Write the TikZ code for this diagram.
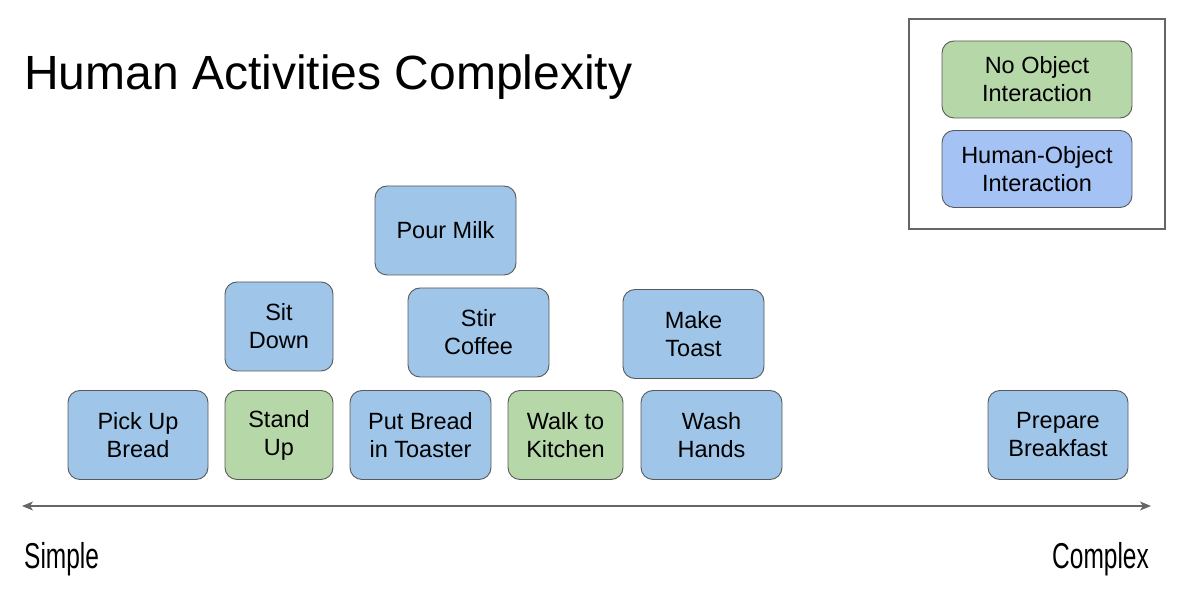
\documentclass[tikz,border=0pt]{standalone}
\usepackage{fontspec}
\setmainfont{Liberation Sans}
\newfontfamily\condfont[FakeStretch=0.68]{Liberation Sans}
\usetikzlibrary{arrows.meta}
\definecolor{boxblue}{HTML}{9FC5E8}
\definecolor{legblue}{HTML}{A4C2F4}
\definecolor{boxgreen}{HTML}{B6D7A8}
\definecolor{boxline}{HTML}{595959}
\definecolor{axisgray}{HTML}{666666}
\tikzset{
  actbox/.style={draw=boxline, line width=0.9pt, rounded corners=12pt,
    minimum height=89pt, align=center, inner sep=2pt,
    font=\fontsize{23.5}{28}\selectfont, text=black},
  hoi/.style={actbox, fill=boxblue},
  noi/.style={actbox, fill=boxgreen},
  legbox/.style={actbox, minimum width=190pt, minimum height=77pt},
}
\begin{document}
\begin{tikzpicture}[x=1pt,y=-1pt]
\useasboundingbox (0,0) rectangle (1181,609);
\node[anchor=base west, font=\fontsize{48}{50}\selectfont, inner sep=0pt] (title) at (24,90) {Human Activities Complexity};
% legend
\node[draw=axisgray, line width=1.6pt, minimum width=256pt, minimum height=210pt, inner sep=0pt] (legend) at (1037,124) {};
\node[legbox, fill=boxgreen] (lno) at (1037,79.5) {No Object\\Interaction};
\node[legbox, fill=legblue] (lho) at (1037,169) {Human-Object\\Interaction};
% bottom row
\node[hoi, minimum width=140pt] (pick) at (138,435) {Pick Up\\Bread};
\node[noi, minimum width=108pt] (stand) at (279,435) {Stand\\Up};
\node[hoi, minimum width=141pt] (put) at (420.5,435) {Put Bread\\in Toaster};
\node[noi, minimum width=115pt] (walk) at (565.5,435) {Walk to\\Kitchen};
\node[hoi, minimum width=141pt] (wash) at (711.5,435) {Wash\\Hands};
\node[hoi, minimum width=140pt] (prep) at (1058,435) {Prepare\\Breakfast};
% upper rows
\node[hoi, minimum width=108pt] (sit) at (279,326.5) {Sit\\Down};
\node[hoi, minimum width=141pt] (stir) at (478.5,332.5) {Stir\\Coffee};
\node[hoi, minimum width=141pt] (toast) at (693.5,334) {Make\\Toast};
\node[hoi, minimum width=141pt] (milk) at (445.5,230.5) {Pour Milk};
% axis
\coordinate (aL) at (22,506);
\coordinate (aR) at (1151,506);
\draw[axisgray, line width=1.4pt, {Stealth[length=11pt,width=9pt,inset=3pt]}-{Stealth[length=11pt,width=9pt,inset=3pt]}] (aL) -- (aR);
\node[anchor=base west, inner sep=0pt, font=\condfont\fontsize{36}{38}\selectfont] (simple) at (24,568) {Simple};
\node[anchor=base east, inner sep=0pt, font=\condfont\fontsize{36}{38}\selectfont] (complex) at (1149,568) {Complex};
\end{tikzpicture}
\end{document}
